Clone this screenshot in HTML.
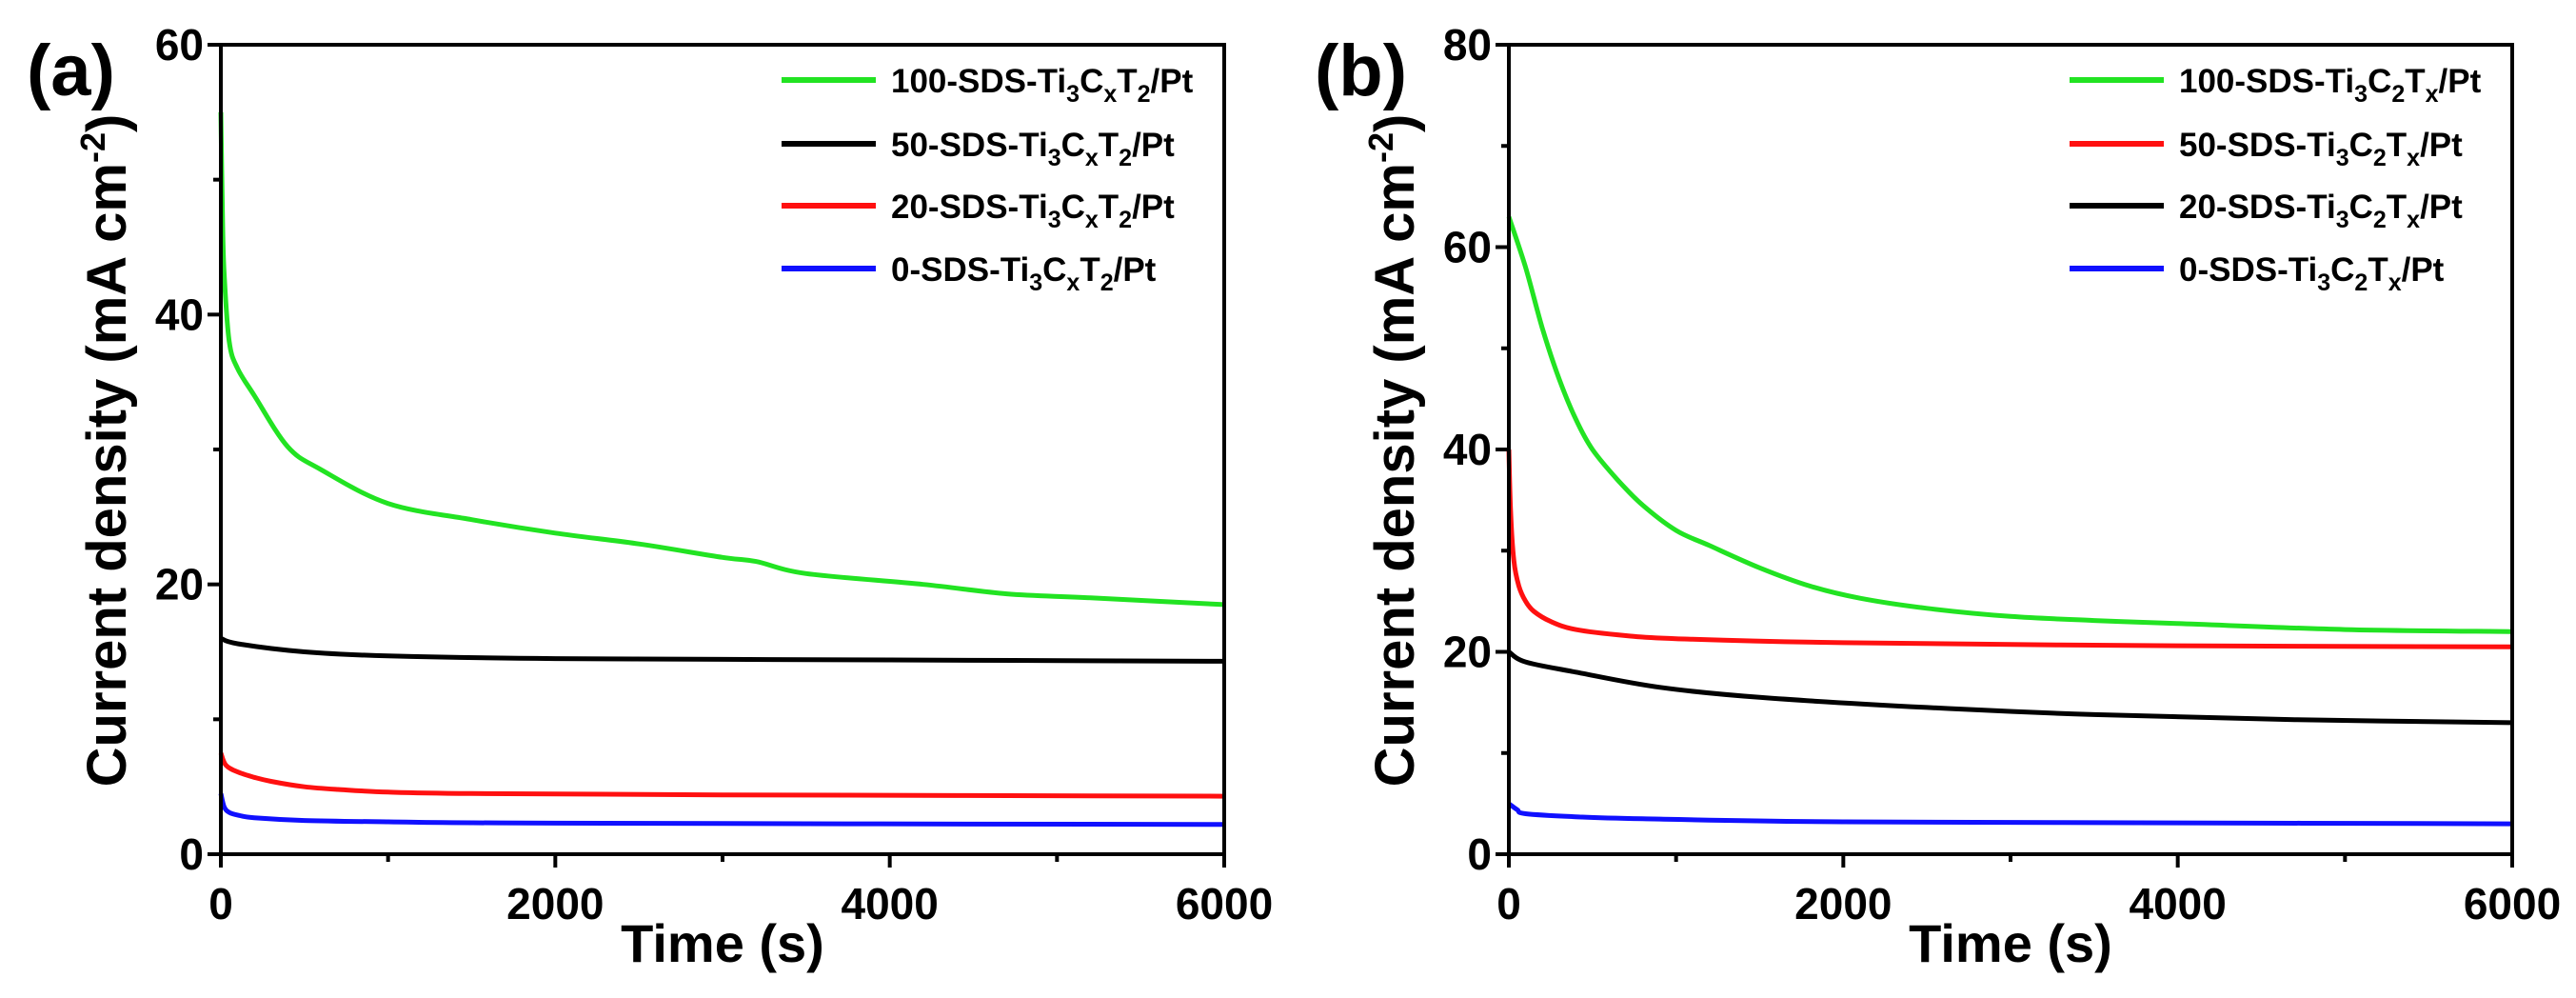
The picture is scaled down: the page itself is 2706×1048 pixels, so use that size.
<!DOCTYPE html>
<html><head><meta charset="utf-8"><style>
html,body{margin:0;padding:0;background:#fff;}
svg{display:block;font-family:"Liberation Sans",sans-serif;font-weight:bold;}
</style></head><body>
<svg id="chart" width="2706" height="1048" viewBox="0 0 2706 1048" xmlns="http://www.w3.org/2000/svg"></svg>
<script>
// Panel (a) data
const aTime = [0, 10, 20, 50, 100, 200, 400, 600, 1000, 1500, 2000, 2500, 3000, 3200, 3500, 4200, 4700, 5200, 6000];
const aGreen = [55, 47, 43, 38, 36, 34, 30.2, 28.5, 26, 24.8, 23.8, 23, 22, 21.7, 20.8, 20, 19.3, 19, 18.5];
const aBlackT = [0, 100, 500, 1000, 2000, 4000, 6000];
const aBlack = [16, 15.6, 15, 14.7, 14.5, 14.4, 14.3];
const aRedT = [0, 30, 100, 200, 300, 500, 700, 1000, 1500, 3000, 6000];
const aRed = [7.5, 6.6, 6.1, 5.7, 5.4, 5, 4.8, 4.6, 4.5, 4.4, 4.3];
const aBlueT = [0, 20, 50, 100, 200, 500, 1000, 2000, 6000];
const aBlue = [4.5, 3.5, 3.1, 2.9, 2.7, 2.5, 2.4, 2.3, 2.2];
// Panel (b) data
const bGreenT = [0, 100, 200, 300, 400, 500, 650, 800, 1000, 1200, 1500, 1800, 2100, 2500, 3000, 3500, 4000, 5000, 6000];
const bGreen = [63, 58, 52, 47, 43, 40, 37, 34.5, 32, 30.5, 28.3, 26.5, 25.3, 24.3, 23.5, 23.1, 22.8, 22.2, 22];
const bRedT = [0, 10, 30, 60, 100, 150, 250, 400, 700, 1000, 2000, 4000, 6000];
const bRed = [40, 34, 29, 26.5, 25, 24, 23, 22.2, 21.6, 21.3, 20.9, 20.6, 20.5];
const bBlackT = [0, 100, 400, 900, 1500, 2500, 3500, 4700, 6000];
const bBlack = [20, 19, 18, 16.5, 15.5, 14.5, 13.8, 13.3, 13];
const bBlueT = [0, 50, 100, 400, 800, 2000, 4000, 6000];
const bBlue = [5, 4.4, 4, 3.7, 3.5, 3.2, 3.1, 3];
const xTicks = [0, 2000, 4000, 6000];
const aYTicks = [0, 20, 40, 60];
const bYTicks = [0, 20, 40, 60, 80];
const aLegend = ["100-SDS-Ti|3|C|x|T|2|/Pt","50-SDS-Ti|3|C|x|T|2|/Pt","20-SDS-Ti|3|C|x|T|2|/Pt","0-SDS-Ti|3|C|x|T|2|/Pt"];
const bLegend = ["100-SDS-Ti|3|C|2|T|x|/Pt","50-SDS-Ti|3|C|2|T|x|/Pt","20-SDS-Ti|3|C|2|T|x|/Pt","0-SDS-Ti|3|C|2|T|x|/Pt"];

const NS = "http://www.w3.org/2000/svg";
const svg = document.getElementById('chart');
function mk(tag, attrs, parent){
  const e = document.createElementNS(NS, tag);
  for (const k in attrs) e.setAttribute(k, attrs[k]);
  (parent||svg).appendChild(e);
  return e;
}
function smoothPath(pts){
  let d = 'M' + pts[0][0].toFixed(1) + ',' + pts[0][1].toFixed(1);
  for (let i=0;i<pts.length-1;i++){
    const p0 = pts[Math.max(0,i-1)], p1 = pts[i], p2 = pts[i+1], p3 = pts[Math.min(pts.length-1,i+2)];
    const c1x = p1[0] + (p2[0]-p0[0])/6, c1y = p1[1] + (p2[1]-p0[1])/6;
    const c2x = p2[0] - (p3[0]-p1[0])/6, c2y = p2[1] - (p3[1]-p1[1])/6;
    d += ' C' + c1x.toFixed(1)+','+c1y.toFixed(1)+' '+c2x.toFixed(1)+','+c2y.toFixed(1)+' '+p2[0].toFixed(1)+','+p2[1].toFixed(1);
  }
  return d;
}
function panel(ox, yMax, yTicks, series, legend, tag, id){
  const L = ox+232, R = ox+1286, T = 47, B = 897;
  const g = mk('g', {});
  
  
  const xs = v => L + v/6000*(R-L);
  const ys = v => B - v/yMax*(B-T);
  series.forEach(s => {
    const pts = s.t.map((t,i)=>[xs(t), ys(s.v[i])]);
    const p = mk('path', {d:smoothPath(pts), fill:'none', stroke:s.c, 'stroke-width':5, 'stroke-linejoin':'round'}, g);
    
    
  });
  const fr = mk('rect', {x:L, y:T, width:R-L, height:B-T, fill:'none', stroke:'#000', 'stroke-width':4}, g);
  
  
  for (let v=0; v<=6000; v+=1000){
    const major = v%2000===0;
    mk('line', {x1:xs(v), x2:xs(v), y1:B, y2:B+(major?14:8), stroke:'#000','stroke-width':4}, g);
  }
  xTicks.forEach(v => {
    const t = mk('text', {x:xs(v), y:965, 'text-anchor':'middle', 'font-size':46}, g);
    t.textContent = v;
    
    
  });
  for (let v=0; v<=yMax; v+=10){
    const major = v%20===0;
    mk('line', {x1:L, x2:L-(major?14:8), y1:ys(v), y2:ys(v), stroke:'#000','stroke-width':4}, g);
  }
  yTicks.forEach(v => {
    const t = mk('text', {x:L-18, y:ys(v)+16, 'text-anchor':'end', 'font-size':46}, g);
    t.textContent = v;
    
    
  });
  const xt = mk('text', {x:(L+R)/2, y:1010, 'text-anchor':'middle', 'font-size':56}, g);
  xt.textContent = 'Time (s)';
  
  
  const yt = mk('text', {x:0, y:0, 'text-anchor':'middle', 'font-size':58, transform:'translate('+(ox+132)+',473) rotate(-90)'}, g);
  yt.innerHTML = 'Current density (mA cm<tspan dy="-22" font-size="36">-2</tspan><tspan dy="22">)</tspan>';
  
  
  const pl = mk('text', {x:ox+28, y:100, 'font-size':76}, g);
  pl.textContent = tag;
  
  
  const rows = [84, 151, 216, 282];
  legend.forEach((lab, i) => {
    const lg = mk('g', {}, g);
    
    
    mk('line', {x1:ox+821, x2:ox+920, y1:rows[i], y2:rows[i], stroke:series[i].c, 'stroke-width':6}, lg);
    const parts = lab.split('|');
    const t = mk('text', {x:ox+936, y:rows[i]+13, 'font-size':35}, lg);
    t.innerHTML = parts[0] + '<tspan dy="10" font-size="25">'+parts[1]+'</tspan><tspan dy="-10">'+parts[2]+'</tspan><tspan dy="10" font-size="25">'+parts[3]+'</tspan><tspan dy="-10">'+parts[4]+'</tspan><tspan dy="10" font-size="25">'+parts[5]+'</tspan><tspan dy="-10">'+parts[6]+'</tspan>';
  });
}
panel(0, 60, aYTicks, [
  {t:aTime, v:aGreen, c:'#22e322', n:'100-sds'},
  {t:aBlackT, v:aBlack, c:'#000000', n:'50-sds'},
  {t:aRedT, v:aRed, c:'#ff1010', n:'20-sds'},
  {t:aBlueT, v:aBlue, c:'#1010ff', n:'0-sds'}
], aLegend, '(a)', 'a');
panel(1353, 80, bYTicks, [
  {t:bGreenT, v:bGreen, c:'#22e322', n:'100-sds'},
  {t:bRedT, v:bRed, c:'#ff1010', n:'50-sds'},
  {t:bBlackT, v:bBlack, c:'#000000', n:'20-sds'},
  {t:bBlueT, v:bBlue, c:'#1010ff', n:'0-sds'}
], bLegend, '(b)', 'b');
</script>
</body></html>
